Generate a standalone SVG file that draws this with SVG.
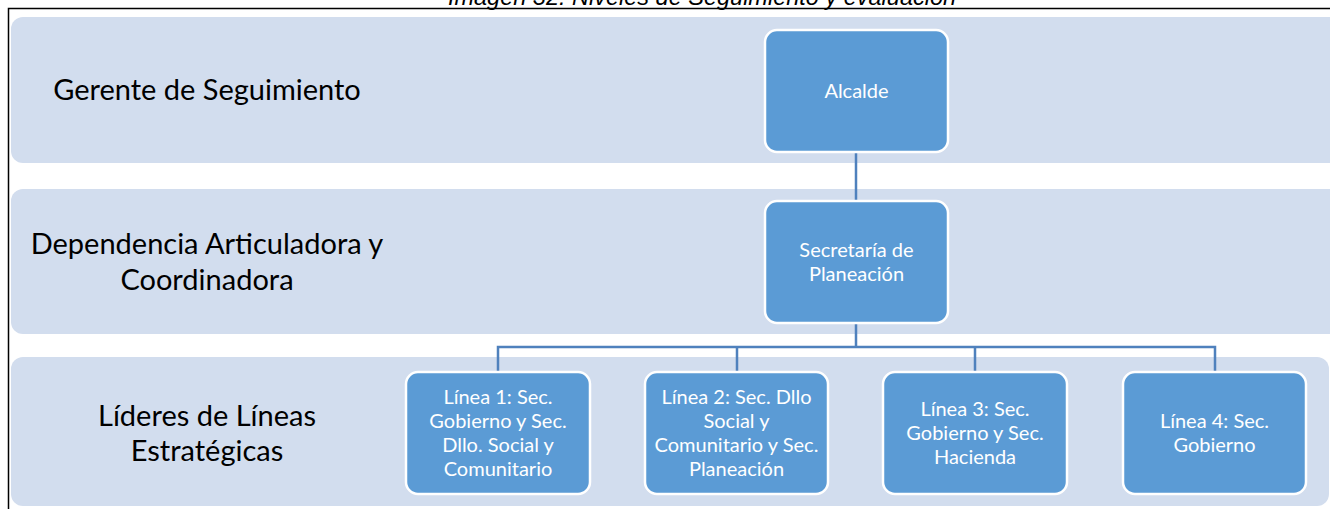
<svg xmlns="http://www.w3.org/2000/svg" width="1330" height="509" viewBox="0 0 1330 509">
<style>
.band{fill:#d2ddee;}
.node{fill:#5b9bd5;stroke:#ffffff;stroke-width:2.5;}
.lbl{font-family:Lato,"Open Sans","Liberation Sans",sans-serif;font-size:29px;fill:#000000;text-anchor:middle;}
.nt{font-family:Lato,"Open Sans","Liberation Sans",sans-serif;font-size:20px;fill:#ffffff;text-anchor:middle;}
.conn{fill:none;stroke:#4f81bd;stroke-width:2.5;}
.cap{font-family:"Liberation Sans",Arial,sans-serif;font-size:23.5px;font-style:italic;fill:#000000;text-anchor:middle;}
</style>
<rect width="1330" height="509" fill="#ffffff"/>
<text class="cap" x="702" y="5">Imagen 32: Niveles de Seguimiento y evaluación</text>
<path d="M8.5,509 V8.5 H1330" fill="none" stroke="#000000" stroke-width="1.5"/>
<g id="band1"><rect class="band" x="11" y="17" width="1330" height="146" rx="12"/><text class="lbl" x="207" y="100">Gerente de Seguimiento</text></g>
<g id="band2"><rect class="band" x="11" y="189" width="1330" height="145" rx="12"/><text class="lbl" x="207" y="254">Dependencia Articuladora y</text><text class="lbl" x="207" y="290">Coordinadora</text></g>
<g id="band3"><rect class="band" x="11" y="357" width="1318" height="149" rx="12"/><text class="lbl" x="207" y="426">Líderes de Líneas</text><text class="lbl" x="207" y="461">Estratégicas</text></g>
<g id="connectors">
<path class="conn" d="M856,152 V201"/>
<path class="conn" d="M856,323 V347 M498,372 V347 H1215 V372 M737,347 V372 M975,347 V372"/>
</g>
<g id="alcalde"><rect class="node" x="765" y="30" width="183" height="122" rx="12"/><text class="nt" x="856.5" y="98">Alcalde</text></g>
<g id="secretaria"><rect class="node" x="765" y="201" width="183" height="122" rx="12"/><text class="nt" x="856.5" y="257">Secretaría de</text><text class="nt" x="856.5" y="281">Planeación</text></g>
<g id="linea1"><rect class="node" x="406" y="372" width="184" height="122" rx="12"/><text class="nt" x="498" y="404">Línea 1: Sec.</text><text class="nt" x="498" y="428">Gobierno y Sec.</text><text class="nt" x="498" y="452">Dllo. Social y</text><text class="nt" x="498" y="476">Comunitario</text></g>
<g id="linea2"><rect class="node" x="645" y="372" width="183" height="122" rx="12"/><text class="nt" x="736.5" y="404">Línea 2: Sec. Dllo</text><text class="nt" x="736.5" y="428">Social y</text><text class="nt" x="736.5" y="452">Comunitario y Sec.</text><text class="nt" x="736.5" y="476">Planeación</text></g>
<g id="linea3"><rect class="node" x="883" y="372" width="184" height="122" rx="12"/><text class="nt" x="975" y="416">Línea 3: Sec.</text><text class="nt" x="975" y="440">Gobierno y Sec.</text><text class="nt" x="975" y="464">Hacienda</text></g>
<g id="linea4"><rect class="node" x="1123" y="372" width="183" height="122" rx="12"/><text class="nt" x="1214.5" y="428">Línea 4: Sec.</text><text class="nt" x="1214.5" y="452">Gobierno</text></g>
</svg>
